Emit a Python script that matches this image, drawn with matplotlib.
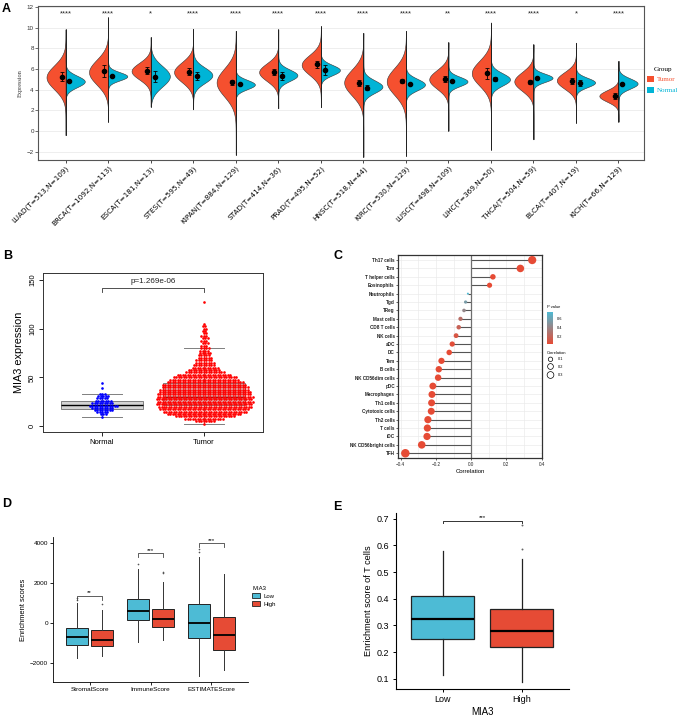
import numpy as np
import matplotlib
matplotlib.use('Agg')
import matplotlib.pyplot as plt
from matplotlib.patches import Patch
from matplotlib.colors import LinearSegmentedColormap, Normalize
import matplotlib.cm as cm

plt.rcParams['font.family'] = ['Liberation Sans', 'DejaVu Sans']

W, H = 685, 719
fig = plt.figure(figsize=(W / 100, H / 100), dpi=100)


def ax_px(x0, y0, x1, y1):
    return fig.add_axes([x0 / W, 1 - y1 / H, (x1 - x0) / W, (y1 - y0) / H])


# ---------------- Panel A data ----------------
cancers = ["LUAD(T=513,N=109)", "BRCA(T=1092,N=113)", "ESCA(T=181,N=13)", "STES(T=595,N=49)",
           "KIPAN(T=884,N=129)", "STAD(T=414,N=36)", "PRAD(T=495,N=52)", "HNSC(T=518,N=44)",
           "KIRC(T=530,N=129)", "LUSC(T=498,N=109)", "LIHC(T=369,N=50)", "THCA(T=504,N=59)",
           "BLCA(T=407,N=19)", "KICH(T=66,N=129)"]
tumor_mode = [5.2, 5.7, 5.8, 5.7, 4.7, 5.7, 6.4, 4.7, 4.8, 5.0, 5.6, 4.8, 4.9, 3.4]
tumor_sd = [1.15, 1.2, 0.8, 0.95, 1.35, 0.85, 0.95, 1.25, 1.3, 0.9, 1.2, 0.9, 0.8, 0.55]
normal_mode = [4.8, 5.3, 5.3, 5.4, 4.5, 5.4, 5.9, 4.3, 4.5, 4.8, 5.0, 5.15, 4.7, 4.6]
normal_sd = [0.55, 0.4, 1.0, 0.75, 0.45, 0.55, 0.5, 0.6, 0.55, 0.45, 0.6, 0.4, 0.45, 0.5]
tumor_mean = [5.26, 5.8, 5.84, 5.74, 4.7, 5.7, 6.45, 4.68, 4.84, 5.0, 5.58, 4.77, 4.87, 3.39]
tumor_err = [0.45, 0.55, 0.35, 0.35, 0.25, 0.3, 0.3, 0.3, 0.2, 0.3, 0.5, 0.2, 0.3, 0.3]
normal_mean = [4.84, 5.32, 5.26, 5.35, 4.52, 5.35, 5.9, 4.2, 4.52, 4.84, 5.0, 5.16, 4.65, 4.52]
normal_err = [0.12, 0.1, 0.55, 0.4, 0.1, 0.4, 0.5, 0.25, 0.1, 0.1, 0.2, 0.1, 0.25, 0.1]
range_min = [-0.4, 0.9, 2.35, 2.1, -2.3, 2.2, 2.3, -2.5, -2.4, 0.03, -1.8, -0.8, 0.8, 0.9]
range_max = [9.85, 11.0, 9.1, 9.9, 9.7, 9.85, 10.15, 9.5, 9.7, 8.6, 10.5, 8.4, 8.55, 6.8]
stars_A = ["****", "****", "*", "****", "****", "****", "****", "****", "****", "**", "****",
           "****", "*", "****"]
groups_A = ["Tumor", "Normal"]

# ---------------- Panel B data ----------------
groups_B = ["Normal", "Tumor"]
normal_levels = [9.5, 12.0, 14.0, 16.4, 18.8, 20.9, 23.3, 25.7, 28.4, 30.8, 32.9, 38.7, 44.5]
normal_counts = [1, 3, 5, 8, 9, 12, 9, 7, 5, 5, 3, 1, 1]
tumor_levels = [2.5, 5, 7.5, 10, 12.5, 15, 17.5, 20, 22.5, 25, 27.5, 30, 32.5, 35, 37.5, 40,
                42.5, 45, 47.5, 50, 52.5, 55, 57.5, 60, 62.5, 65, 67.5, 70, 72.5, 75, 77.5,
                80, 82.5, 85, 87.5, 90, 92.5, 95, 97.5, 100, 102.5, 105, 127.5]
tumor_counts = [1, 8, 16, 24, 30, 34, 36, 38, 39, 39, 39, 39, 38, 37, 36, 35, 34, 31, 28, 26,
                22, 16, 13, 11, 9, 8, 7, 6, 5, 5, 4, 4, 3, 3, 3, 3, 3, 2, 2, 2, 2, 1, 1]
box_B = [dict(q1=17.5, med=21.9, q3=25.7, whislo=9.2, whishi=32.5),
         dict(q1=21.5, med=29.4, q3=43.8, whislo=2.0, whishi=79.7)]
p_text_B = "p=1.269e-06"

# ---------------- Panel C data ----------------
cells = ["Th17 cells", "Tcm", "T helper cells", "Eosinophils", "Neutrophils", "Tgd", "TReg",
         "Mast cells", "CD8 T cells", "NK cells", "aDC", "DC", "Tem", "B cells",
         "NK CD56dim cells", "pDC", "Macrophages", "Th1 cells", "Cytotoxic cells", "Th2 cells",
         "T cells", "iDC", "NK CD56bright cells", "TFH"]
corr = [0.346, 0.279, 0.123, 0.104, -0.019, -0.032, -0.041, -0.061, -0.071, -0.086, -0.108,
        -0.125, -0.169, -0.184, -0.188, -0.218, -0.223, -0.225, -0.227, -0.246, -0.249,
        -0.251, -0.281, -0.374]
pval = [0.0, 0.0, 0.01, 0.02, 0.76, 0.55, 0.42, 0.25, 0.18, 0.1, 0.05, 0.03, 0.0, 0.0, 0.0,
        0.0, 0.0, 0.0, 0.0, 0.0, 0.0, 0.0, 0.0, 0.0]

# ---------------- Panel D data ----------------
scores = ["StromalScore", "ImmuneScore", "ESTIMATEScore"]
groups_D = ["Low", "High"]
box_D_low = [dict(q1=-1092, med=-706, q3=-235, whislo=-1747, whishi=1000, fliers=[1150, 1250]),
             dict(q1=168, med=588, q3=1226, whislo=-958, whishi=2688, fliers=[2957]),
             dict(q1=-756, med=0, q3=941, whislo=-2671, whishi=3326, fliers=[3578, 3700])]
box_D_high = [dict(q1=-1176, med=-840, q3=-370, whislo=-1680, whishi=672, fliers=[975]),
              dict(q1=-202, med=202, q3=722, whislo=-840, whishi=2066, fliers=[2487, 2537]),
              dict(q1=-1344, med=-588, q3=302, whislo=-2385, whishi=2436, fliers=[])]
stars_D = ["**", "***", "***"]
bracket_D = [1344, 3494, 4000]

# ---------------- Panel E data ----------------
groups_E = ["Low", "High"]
box_E = [dict(q1=0.25, med=0.325, q3=0.409, whislo=0.115, whishi=0.5775, fliers=[]),
         dict(q1=0.219, med=0.279, q3=0.36, whislo=0.09, whishi=0.5475, fliers=[0.5875, 0.675])]
stars_E = "***"

RED_A, CYAN_A = "#F5502F", "#00B4D6"
LOWC, HIGHC = "#4DBBD5", "#E64B35"

# ================= Panel A =================
axA = ax_px(38, 5.7, 644, 160)
xs = np.arange(1, len(cancers) + 1)
for i, c in enumerate(xs):
    lo, hi = range_min[i], range_max[i]
    yy = np.linspace(lo, hi, 400)
    dt = np.exp(-0.5 * ((yy - tumor_mode[i]) / tumor_sd[i]) ** 2)
    dn = np.exp(-0.5 * ((yy - normal_mode[i]) / normal_sd[i]) ** 2)
    axA.fill_betweenx(yy, c - 0.45 * dt, c, facecolor=RED_A, edgecolor="#333333", lw=0.4, zorder=2)
    axA.fill_betweenx(yy, c, c + 0.45 * dn, facecolor=CYAN_A, edgecolor="#333333", lw=0.4, zorder=2)
    axA.vlines(c, lo, hi, color="#222222", lw=0.7, zorder=3)
    axA.text(c, 11.3, stars_A[i], ha="center", va="center", fontsize=5.5, color="#222222")
axA.errorbar(xs - 0.09, tumor_mean, yerr=tumor_err, fmt="o", color="black", ms=3,
             capsize=1.5, elinewidth=0.6, capthick=0.6, zorder=5)
axA.errorbar(xs + 0.09, normal_mean, yerr=normal_err, fmt="o", color="black", ms=3,
             capsize=1.5, elinewidth=0.6, capthick=0.6, zorder=5)
axA.set_xlim(0.35, 14.6)
axA.set_ylim(-2.8, 12.13)
axA.set_yticks(np.arange(-2, 13, 2))
axA.set_yticklabels(["\u22122", "0", "2", "4", "6", "8", "10", "12"])
axA.yaxis.grid(True, color="#EBEBEB", lw=0.6)
axA.set_axisbelow(True)
axA.set_xticks(xs)
axA.set_xticklabels(cancers, rotation=45, ha="right", va="top", rotation_mode="anchor",
                    fontsize=5.2, family="DejaVu Sans")
axA.tick_params(axis="y", labelsize=4.5, length=2, width=0.5, pad=1, colors="#333333")
axA.tick_params(axis="x", length=2, width=0.5, pad=1.5)
for s in axA.spines.values():
    s.set_color("#555555")
    s.set_linewidth(0.8)
axA.set_ylabel("Expression", family="Liberation Serif", fontsize=4.5, labelpad=3, color="#333333")

legA = fig.legend(handles=[Patch(facecolor=RED_A, edgecolor="none"),
                           Patch(facecolor=CYAN_A, edgecolor="none")],
                  labels=groups_A, title="Group", loc="upper left",
                  bbox_to_anchor=(644 / W, 1 - 64 / H), frameon=False,
                  prop={"family": "Liberation Serif", "size": 5},
                  handlelength=1.0, handleheight=1.0, handletextpad=0.5, labelspacing=0.6,
                  borderaxespad=0)
legA.get_title().set_fontfamily("Liberation Serif")
legA.get_title().set_fontsize(5.2)
for t, col in zip(legA.get_texts(), [RED_A, CYAN_A]):
    t.set_color(col)

# ================= Panel B =================
axB = ax_px(43, 273, 263, 432)
bxB = axB.bxp(box_B, positions=[1, 2], widths=0.8, capwidths=0.4, patch_artist=True,
              showfliers=False,
              boxprops=dict(facecolor="#D4D4D4", edgecolor="#7F7F7F", lw=0.7),
              medianprops=dict(color="black", lw=1.0),
              whiskerprops=dict(color="#7F7F7F", lw=0.7),
              capprops=dict(color="#7F7F7F", lw=0.7), zorder=1)
pitch = 0.0245
for pos, levels, counts, col in [(1, normal_levels, normal_counts, "#0000FF"),
                                 (2, tumor_levels, tumor_counts, "#FF0000")]:
    px, py = [], []
    for j, (lv, n) in enumerate(zip(levels, counts)):
        offs = (np.arange(n) - (n - 1) / 2) * pitch + (pitch / 2 if (j % 2 and n > 1) else 0)
        px.extend(pos + offs)
        py.extend([lv] * n)
    axB.scatter(px, py, s=3.6, color=col, linewidths=0, zorder=3)
axB.set_xlim(0.42, 2.58)
axB.set_ylim(-6, 157)
axB.set_yticks([0, 50, 100, 150])
axB.set_yticklabels(["0", "50", "100", "150"], rotation=90, va="center")
axB.set_xticks([1, 2])
axB.set_xticklabels(groups_B)
axB.tick_params(labelsize=5.5, length=3, width=0.6, pad=2)
for s in axB.spines.values():
    s.set_linewidth(0.7)
    s.set_color("#333333")
axB.set_ylabel("MIA3 expression", fontsize=7.8, labelpad=4)
axB.plot([1, 1, 2, 2], [137.5, 141.7, 141.7, 137.5], color="#333333", lw=0.6)
axB.text(1.5, 144.5, p_text_B, ha="center", va="bottom", fontsize=5.8, color="#222222")

# ================= Panel C =================
axC = ax_px(398.3, 255, 541.7, 458.3)
n_c = len(cells)
ypos = np.arange(n_c, 0, -1)
cmap = LinearSegmentedColormap.from_list("pv", [HIGHC, LOWC])
norm = Normalize(vmin=0.03, vmax=0.76)
absr = np.abs(corr)
rmin, rmax = absr.min(), absr.max()


def size_of(r):
    d_px = 2.0 + 6.5 * np.sqrt(np.clip((np.abs(r) - rmin) / (rmax - rmin), 0, 1))
    return (d_px * 0.72) ** 2


axC.hlines(ypos, 0, corr, color="#555555", lw=0.8, zorder=2)
axC.axvline(0, color="#6E6E6E", lw=0.9, zorder=2)
axC.scatter(corr, ypos, s=size_of(np.array(corr)), c=pval, cmap=cmap, norm=norm,
            linewidths=0, zorder=3)
axC.set_xlim(-0.414, 0.40)
axC.set_ylim(0.4, n_c + 0.6)
axC.set_xticks([-0.4, -0.2, 0.0, 0.2, 0.4])
axC.set_xticklabels(["\u22120.4", "\u22120.2", "0.0", "0.2", "0.4"])
axC.set_xticks([-0.3, -0.1, 0.1, 0.3], minor=True)
axC.set_yticks(ypos)
axC.set_yticklabels(cells, fontweight="bold")
axC.grid(True, which="both", color="#EBEBEB", lw=0.5)
axC.set_axisbelow(True)
axC.tick_params(axis="both", which="major", labelsize=3.3, length=1.5, width=0.5, pad=1,
                colors="#222222")
axC.tick_params(axis="x", which="minor", length=0)
for s in axC.spines.values():
    s.set_linewidth(0.9)
    s.set_color("#333333")
axC.set_xlabel("Correlation", fontsize=4.3, labelpad=1.5)

caxC = ax_px(546.7, 311.7, 553.3, 344)
cb = fig.colorbar(cm.ScalarMappable(norm=norm, cmap=cmap), cax=caxC)
cb.set_ticks([0.2, 0.4, 0.6])
cb.ax.tick_params(labelsize=2.8, length=1.5, width=0.4, color="white", pad=1)
cb.outline.set_visible(False)
fig.text(546.7 / W, 1 - 309.5 / H, "P value", fontsize=2.9, va="bottom", ha="left")
lax = ax_px(543, 345, 600, 385)
lax.set_xlim(543, 600)
lax.set_ylim(385, 345)
lax.axis("off")
lax.text(546.7, 352.5, "Correlation", fontsize=2.9, va="center", ha="left")
for val, yy in zip([0.1, 0.2, 0.3], [359.3, 366.5, 375.0]):
    lax.scatter([550.5], [yy], s=size_of(val) * 0.75, facecolors="none", edgecolors="black",
                linewidths=0.5)
    lax.text(557.5, yy, "%.1f" % val, fontsize=2.8, va="center", ha="left")

# ================= Panel D =================
axD = ax_px(53, 537, 248, 682)
posD = np.arange(1, len(scores) + 1)
common = dict(widths=0.36, patch_artist=True, showcaps=False,
              medianprops=dict(color="black", lw=1.3),
              whiskerprops=dict(color="#333333", lw=0.7),
              flierprops=dict(marker="o", markersize=1.2, markerfacecolor="#555555",
                              markeredgecolor="none"))
axD.bxp(box_D_low, positions=posD - 0.2, boxprops=dict(facecolor=LOWC, edgecolor="#222222", lw=0.7),
        **common)
axD.bxp(box_D_high, positions=posD + 0.2, boxprops=dict(facecolor=HIGHC, edgecolor="#222222", lw=0.7),
        **common)
for i, p in enumerate(posD):
    yb = bracket_D[i]
    axD.plot([p - 0.2, p - 0.2, p + 0.2, p + 0.2], [yb - 170, yb, yb, yb - 170],
             color="#444444", lw=0.6)
    axD.text(p, yb + 40, stars_D[i], ha="center", va="bottom", fontsize=4.5)
axD.set_xlim(0.4, 3.6)
axD.set_ylim(-2970, 4320)
axD.set_xticks(posD)
axD.set_xticklabels(scores)
axD.set_yticks([-2000, 0, 2000, 4000])
axD.set_yticklabels(["\u22122000", "0", "2000", "4000"])
axD.tick_params(labelsize=4.6, length=2, width=0.6, pad=1.5)
for s in ["top", "right"]:
    axD.spines[s].set_visible(False)
for s in ["left", "bottom"]:
    axD.spines[s].set_linewidth(0.6)
axD.set_ylabel("Enrichment scores", fontsize=5.4, labelpad=2)
legD = fig.legend(handles=[Patch(facecolor=LOWC, edgecolor="#222222", lw=0.6),
                           Patch(facecolor=HIGHC, edgecolor="#222222", lw=0.6)],
                  labels=groups_D, title="MIA3", loc="upper left",
                  bbox_to_anchor=(250 / W, 1 - 584 / H), frameon=False,
                  fontsize=4.3, title_fontsize=4.3, handlelength=1.3, handleheight=0.9,
                  handletextpad=0.5, labelspacing=0.35, borderaxespad=0)
legD._legend_box.align = "left"

# ================= Panel E =================
axE = ax_px(395.7, 513.3, 569, 689)
axE.bxp([box_E[0]], positions=[1], widths=0.8, patch_artist=True, showcaps=False,
        boxprops=dict(facecolor=LOWC, edgecolor="#222222", lw=0.9),
        medianprops=dict(color="black", lw=1.6),
        whiskerprops=dict(color="#222222", lw=0.9),
        flierprops=dict(marker="o", markersize=1.4, markerfacecolor="#666666", markeredgecolor="none"))
axE.bxp([box_E[1]], positions=[2], widths=0.8, patch_artist=True, showcaps=False,
        boxprops=dict(facecolor=HIGHC, edgecolor="#222222", lw=0.9),
        medianprops=dict(color="black", lw=1.6),
        whiskerprops=dict(color="#222222", lw=0.9),
        flierprops=dict(marker="o", markersize=1.4, markerfacecolor="#666666", markeredgecolor="none"))
axE.plot([1, 1, 2, 2], [0.685, 0.691, 0.691, 0.685], color="#333333", lw=0.7)
axE.text(1.5, 0.693, stars_E, ha="center", va="bottom", fontsize=4.5)
axE.set_xlim(0.4, 2.6)
axE.set_ylim(0.062, 0.72)
axE.set_yticks([0.1, 0.2, 0.3, 0.4, 0.5, 0.6, 0.7])
axE.set_xticks([1, 2])
axE.set_xticklabels(groups_E)
axE.tick_params(labelsize=6.5, length=2.5, width=0.7, pad=2)
for s in ["top", "right"]:
    axE.spines[s].set_visible(False)
for s in ["left", "bottom"]:
    axE.spines[s].set_linewidth(0.8)
axE.set_ylabel("Enrichment score of T cells", fontsize=6.6, labelpad=3)
axE.set_xlabel("MIA3", fontsize=7, labelpad=2)

# ---------------- panel letters ----------------
for letter, x, y in [("A", 1.5, 2.5), ("B", 3.3, 250), ("C", 333, 250), ("D", 1.7, 498),
                     ("E", 333, 501.5)]:
    fig.text(x / W, 1 - y / H, letter, fontsize=9, fontweight="bold", va="top", ha="left")

fig.savefig("out.png", dpi=100)
